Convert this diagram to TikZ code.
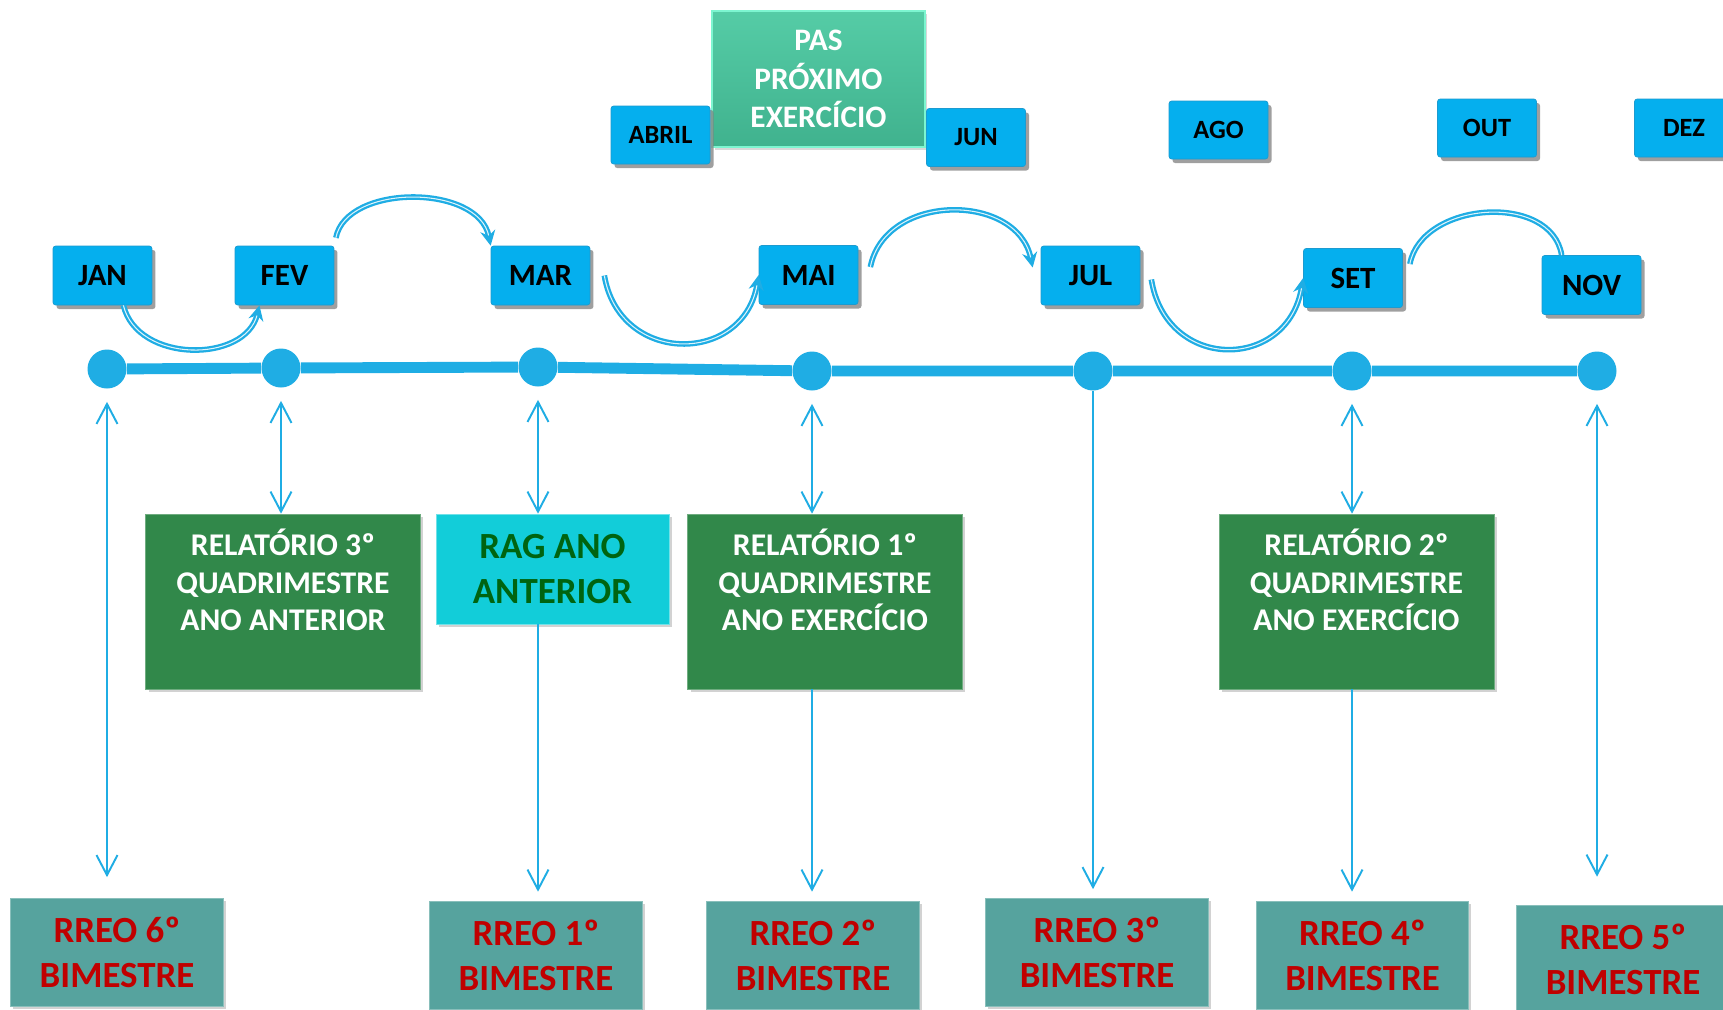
\documentclass[tikz,border=0pt]{standalone}
\usepackage{fontspec}
\setmainfont{Carlito}
\usetikzlibrary{positioning, arrows.meta, shadows}

\definecolor{monthblue}{HTML}{05AFEE}
\definecolor{monthedge}{HTML}{1C9BD0}
\definecolor{linecol}{HTML}{1FADE4}
\definecolor{pastop}{HTML}{55CCA6}
\definecolor{pasbot}{HTML}{40B28E}
\definecolor{pasedge}{HTML}{7DF5D0}
\definecolor{relgreen}{HTML}{31884A}
\definecolor{ragcyan}{HTML}{12CDD9}
\definecolor{ragtext}{HTML}{006410}
\definecolor{rreoteal}{HTML}{56A39E}
\definecolor{rreotext}{HTML}{C00000}

\begin{document}
\begin{tikzpicture}[x=0.02cm, y=-0.02cm,
  month/.style={rectangle, rounded corners=1.5pt, draw=monthedge, fill=monthblue, minimum width=1.98cm, minimum height=1.18cm, inner sep=0pt, font=\bfseries\fontsize{17.6}{20}\selectfont, drop shadow={shadow xshift=0.07cm, shadow yshift=-0.08cm, opacity=0.75}},
  monthsm/.style={month, minimum height=1.16cm, font=\bfseries\fontsize{15}{18}\selectfont},
  pasbox/.style={rectangle, draw=pasedge, line width=1pt, top color=pastop, bottom color=pasbot, minimum width=4.26cm, minimum height=2.72cm, align=center, text=white, font=\bfseries\fontsize{17.8}{21.8}\selectfont, drop shadow={shadow xshift=0.05cm, shadow yshift=-0.06cm, opacity=0.3}},
  relbox/.style={rectangle, fill=relgreen, draw=relgreen!70!white, minimum width=5.5cm, minimum height=3.5cm, drop shadow={shadow xshift=0.06cm, shadow yshift=-0.06cm, opacity=0.35}},
  reltext/.style={align=center, text=white, anchor=north, yshift=-0.18cm, font=\bfseries\fontsize{18}{21.5}\selectfont},
  ragbox/.style={rectangle, fill=ragcyan, draw=ragcyan!60!white, minimum width=4.66cm, minimum height=2.2cm, align=center, text=ragtext, font=\bfseries\fontsize{21}{25.5}\selectfont, drop shadow={shadow xshift=0.06cm, shadow yshift=-0.06cm, opacity=0.35}},
  rreobox/.style={rectangle, fill=rreoteal, draw=rreoteal!70!white, minimum width=4.25cm, minimum height=2.16cm, align=center, text=rreotext, font=\bfseries\fontsize{21}{25.5}\selectfont, drop shadow={shadow xshift=0.05cm, shadow yshift=-0.05cm, opacity=0.35}},
  dot/.style={circle, fill=linecol, minimum size=0.78cm, inner sep=0pt},
  timeline/.style={line width=6.2pt, draw=linecol},
  link/.style={line width=1.1pt, draw=linecol, >={Straight Barb[length=0.4cm, width=0.42cm]}},
  hop/.style={draw=linecol, line width=1.3pt, double=white!85!linecol, double distance=0.6pt, -{Stealth[length=0.3cm, width=0.3cm]}}
]

\useasboundingbox (0,0) rectangle (1723,1009);
\clip (0,0) rectangle (1723,1009);
\fill[white] (0,0) rectangle (1723,1009);

% months on the timeline
\node[month] (jan) at (102.5,275.5) {JAN};
\node[month] (fev) at (284.5,275.5) {FEV};
\node[month] (mar) at (540.5,275.5) {MAR};
\node[month] (mai) at (808.5,275) {MAI};
\node[month] (jul) at (1090.5,275.5) {JUL};
\node[month] (set) at (1353,278) {SET};
\node[month] (nov) at (1591.5,285) {NOV};

% top row
\node[pasbox] (pas) at (818.5,79) {PAS\\PRÓXIMO\\EXERCÍCIO};
\node[monthsm] (abril) at (660.5,135) {ABRIL};
\node[monthsm] (jun) at (976,137.5) {JUN};
\node[monthsm] (ago) at (1218.5,130) {AGO};
\node[monthsm] (out) at (1487,128) {OUT};
\node[monthsm] (dez) at (1684,128) {DEZ};

% timeline
\node[dot] (jandot) at (107,369) {};
\node[dot] (fevdot) at (281,368) {};
\node[dot] (mardot) at (538,367) {};
\node[dot] (maidot) at (812,371) {};
\node[dot] (juldot) at (1093,371) {};
\node[dot] (setdot) at (1352,371) {};
\node[dot] (novdot) at (1597,371) {};
\draw[timeline] (jandot) -- (fevdot) -- (mardot) -- (maidot) -- (juldot) -- (setdot) -- (novdot);

% reports
\node[relbox, label={[reltext]north:RELATÓRIO 3º\\QUADRIMESTRE\\ANO ANTERIOR}] (rel3) at (283,601.5) {};
\node[ragbox] (rag) at (552.5,569) {RAG ANO\\ANTERIOR};
\node[relbox, label={[reltext]north:RELATÓRIO 1º\\QUADRIMESTRE\\ANO EXERCÍCIO}] (rel1) at (825,601.5) {};
\node[relbox, label={[reltext]north:RELATÓRIO 2º\\QUADRIMESTRE\\ANO EXERCÍCIO}] (rel2) at (1356.5,601.5) {};

\node[rreobox] (rreo6) at (117,952.5) {RREO 6º\\BIMESTRE};
\node[rreobox] (rreo1) at (536,955) {RREO 1º\\BIMESTRE};
\node[rreobox] (rreo2) at (813,955) {RREO 2º\\BIMESTRE};
\node[rreobox, minimum width=4.45cm] (rreo3) at (1097,952.5) {RREO 3º\\BIMESTRE};
\node[rreobox] (rreo4) at (1362.5,955) {RREO 4º\\BIMESTRE};
\node[rreobox] (rreo5) at (1623,959) {RREO 5º\\BIMESTRE};

% vertical links
\draw[link, <->, shorten <=0.26cm, shorten >=0.42cm] (jandot) -- (jandot |- rreo6.north);
\draw[link, <->, shorten <=0.26cm] (fevdot) -- (fevdot |- rel3.north);
\draw[link, <->, shorten <=0.26cm] (mardot) -- (mardot |- rag.north);
\draw[link, ->, shorten >=0.18cm] (mardot |- rag.south) -- (mardot |- rreo1.north);
\draw[link, <->, shorten <=0.26cm] (maidot) -- (maidot |- rel1.north);
\draw[link, ->, shorten >=0.18cm] (maidot |- rel1.south) -- (maidot |- rreo2.north);
\draw[link, ->, shorten >=0.18cm] (juldot) -- (juldot |- rreo3.north);
\draw[link, <->, shorten <=0.26cm] (setdot) -- (setdot |- rel2.north);
\draw[link, ->, shorten >=0.18cm] (setdot |- rel2.south) -- (setdot |- rreo4.north);
\draw[link, <->, shorten <=0.26cm, shorten >=0.56cm] (novdot) -- (novdot |- rreo5.north);

% hops between months
\draw[hop] (jan.-55) .. controls +(14,58) and +(-14,58) .. (fev.-130);
\draw[hop, shorten <=0.16cm] (fev.north east) .. controls +(12,-62) and +(-12,-62) .. (mar.north west);
\draw[hop] ([xshift=0.28cm]mar.east) .. controls +(15,90) and +(-15,90) .. (mai.west);
\draw[hop] ([xshift=0.24cm, yshift=0.16cm]mai.east) .. controls +(15,-75) and +(-15,-75) .. ([xshift=-0.16cm, yshift=0.16cm]jul.west);
\draw[hop] ([xshift=0.22cm, yshift=-0.08cm]jul.east) .. controls +(15,93) and +(-15,93) .. (set.west);
\draw[hop, -] ([xshift=0.14cm, yshift=0.28cm]set.east) .. controls +(12,-63) and +(-10,-63) .. (nov.135);

\end{tikzpicture}
\end{document}
